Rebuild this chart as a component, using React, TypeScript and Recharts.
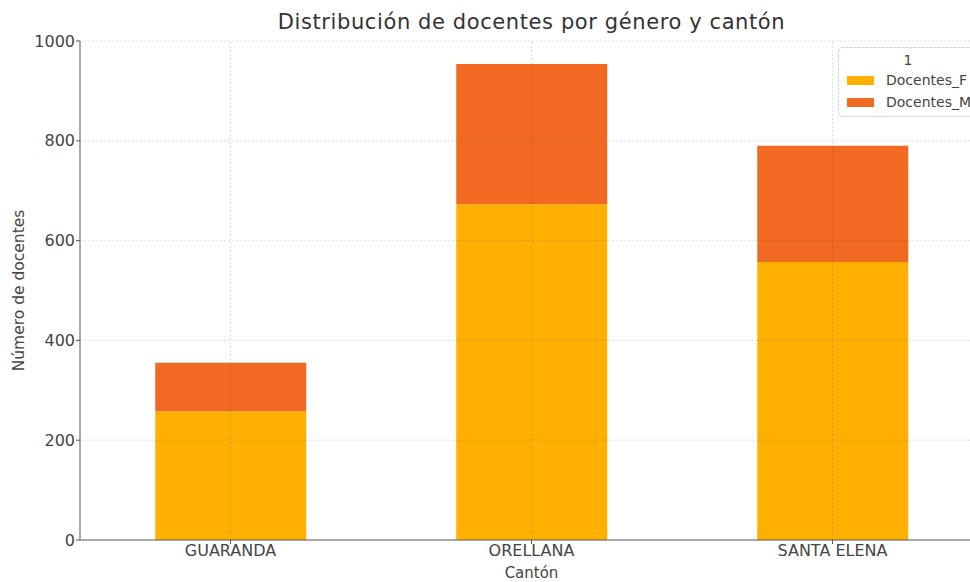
import React from 'react';
import { BarChart, Bar, XAxis, YAxis, ReferenceLine } from 'recharts';

const cantones = ['GUARANDA', 'ORELLANA', 'SANTA ELENA'];
const docentesF = [258, 673, 557];
const docentesM = [97, 281, 233];
const yTicks = [0, 200, 400, 600, 800, 1000];
const seriesNames = ['Docentes_F', 'Docentes_M'];
const seriesColors = ['#FFB000', '#F26A21'];

const data = cantones.map((c, i) => ({
  canton: c,
  Docentes_F: docentesF[i],
  Docentes_M: docentesM[i],
}));

const FONT = '"DejaVu Sans", sans-serif';
const gridStroke = { stroke: '#000', strokeOpacity: 0.13, strokeDasharray: '2 2', strokeWidth: 1 };

const App: React.FC = () => {
  return (
    <div
      style={{
        position: 'fixed', left: 0, top: 0, width: 970, height: 582,
        overflow: 'hidden', background: '#fff', fontFamily: FONT,
      }}
    >
      <div
        style={{
          position: 'absolute', left: 80, width: 903, top: 8, lineHeight: '28px',
          textAlign: 'center', fontSize: 21, letterSpacing: 0.6, color: '#333',
        }}
      >
        Distribución de docentes por género y cantón
      </div>

      <BarChart
        width={1000}
        height={582}
        data={data}
        margin={{ top: 41, right: 17, left: 0, bottom: 0 }}
        barCategoryGap="25%"
        style={{ fontFamily: FONT }}
      >
        <XAxis
          dataKey="canton"
          height={42}
          stroke="#555"
          tickSize={4}
          tickMargin={1}
          tick={{ fill: '#444', fontSize: 16 }}
          label={{
            content: (props: any) => {
              const vb = props.viewBox;
              return (
                <text x={vb.x + vb.width / 2} y={vb.y + 38} textAnchor="middle" fill="#444" fontSize={15}>
                  Cantón
                </text>
              );
            },
          }}
        />
        <YAxis
          width={80}
          domain={[0, 1000]}
          ticks={yTicks}
          stroke="#555"
          tickSize={4}
          tickMargin={1}
          tick={{ fill: '#444', fontSize: 16 }}
          label={{
            content: (props: any) => {
              const vb = props.viewBox;
              const x = vb.x + 19;
              const y = vb.y + vb.height / 2;
              return (
                <text x={x} y={y} transform={`rotate(-90 ${x} ${y})`} textAnchor="middle" dominantBaseline="central" fill="#444" fontSize={15.5}>
                  Número de docentes
                </text>
              );
            },
          }}
        />
        <Bar dataKey="Docentes_F" stackId="a" fill={seriesColors[0]} isAnimationActive={false} />
        <Bar dataKey="Docentes_M" stackId="a" fill={seriesColors[1]} isAnimationActive={false} />
        {yTicks.filter((t) => t > 0).map((t) => (
          <ReferenceLine key={`y${t}`} y={t} {...gridStroke} />
        ))}
        {cantones.map((c) => (
          <ReferenceLine key={`x${c}`} x={c} {...gridStroke} />
        ))}
      </BarChart>

      <div
        style={{
          position: 'absolute', left: 838, top: 47, width: 140, height: 70,
          boxSizing: 'border-box', border: '1px solid #ddd', borderRadius: 4,
          background: 'rgba(255,255,255,0.9)', color: '#444', fontSize: 14,
        }}
      >
        <div style={{ textAlign: 'center', lineHeight: '18px', marginTop: 3 }}>1</div>
        {seriesNames.map((name, i) => (
          <div key={name} style={{ display: 'flex', alignItems: 'center', height: 22 }}>
            <span style={{ display: 'inline-block', marginLeft: 8, width: 27, height: 9, background: seriesColors[i] }} />
            <span style={{ marginLeft: 12, whiteSpace: 'nowrap' }}>{name}</span>
          </div>
        ))}
      </div>
    </div>
  );
};

export default App;
